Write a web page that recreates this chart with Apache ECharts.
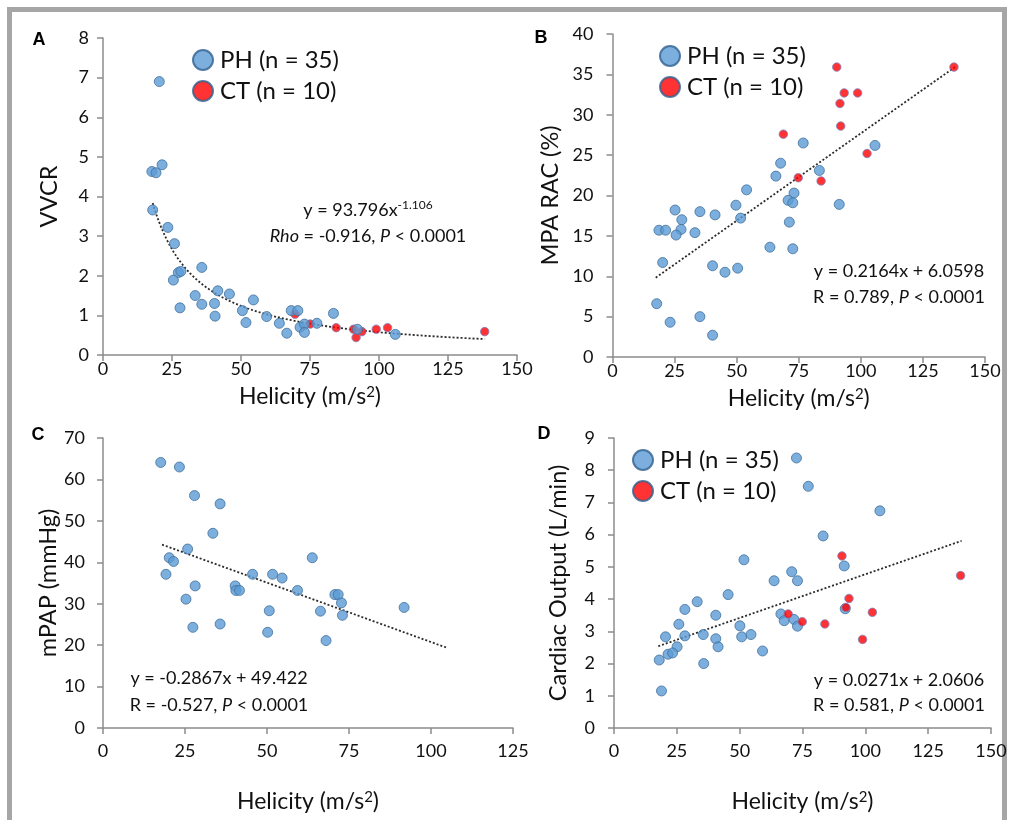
<!DOCTYPE html>
<html>
<head>
<meta charset="utf-8">
<title>Helicity correlations</title>
<script src="https://cdn.jsdelivr.net/npm/echarts@6/dist/echarts.min.js"></script>
<style>
  html, body { margin: 0; padding: 0; background: #ffffff; }
  #chart { width: 1014px; height: 820px; }
</style>
</head>
<body>
<div id="chart"></div>
<script>
// ---- Panel A: VVCR vs helicity ----
const phA = [[20.4,6.90],[17.7,4.63],[19.2,4.60],[21.4,4.80],[18.0,3.66],[23.5,3.22],[25.9,2.81],[27.3,2.08],[28.2,2.11],[25.5,1.89],[35.8,2.21],[27.9,1.19],[33.4,1.50],[35.8,1.28],[41.6,1.62],[45.8,1.54],[40.4,1.30],[40.6,0.98],[50.5,1.12],[54.5,1.39],[51.8,0.82],[59.3,0.97],[63.9,0.80],[66.6,0.55],[68.2,1.12],[70.6,1.12],[71.4,0.70],[73.0,0.78],[73.0,0.57],[77.5,0.80],[83.5,1.05],[92.2,0.65],[105.9,0.52]];
const ctA = [[69.6,1.03],[75.1,0.78],[84.5,0.69],[90.8,0.65],[91.7,0.44],[93.8,0.59],[99.0,0.65],[103.1,0.69],[138.3,0.59]];
const fitA = { a: 93.796, b: -1.106, from: 18.0, to: 138.3 };   // y = a * x^b

// ---- Panel B: MPA RAC vs helicity ----
const phB = [[67.7,24.0],[65.8,22.4],[54.0,20.7],[73.1,20.3],[70.7,19.4],[72.6,19.1],[49.7,18.8],[25.2,18.2],[35.2,18.0],[41.3,17.6],[51.6,17.2],[27.9,17.0],[18.7,15.7],[21.4,15.7],[27.6,15.8],[25.6,15.1],[33.2,15.4],[71.2,16.7],[63.4,13.6],[72.6,13.4],[20.2,11.7],[40.3,11.3],[45.3,10.5],[50.4,11.0],[17.8,6.6],[23.2,4.3],[35.2,5.0],[40.3,2.7],[76.8,26.5],[105.7,26.2],[83.3,23.1],[91.3,18.9]];
const ctB = [[68.8,27.6],[74.8,22.2],[90.3,35.9],[93.3,32.7],[98.7,32.7],[91.6,31.4],[91.9,28.6],[102.5,25.2],[84.0,21.8],[137.5,35.9]];
const fitB = { slope: 0.2164, intercept: 6.0598, from: 17.4, to: 138.0 };

// ---- Panel C: mPAP vs helicity ----
const phC = [[17.6,64.1],[23.3,63.0],[27.9,56.1],[35.7,54.1],[33.5,47.0],[25.8,43.2],[20.2,41.1],[21.5,40.2],[19.2,37.1],[45.6,37.1],[51.7,37.1],[54.6,36.2],[28.1,34.3],[40.3,34.3],[40.5,33.2],[41.6,33.2],[59.3,33.2],[25.3,31.1],[50.7,28.3],[27.4,24.3],[35.7,25.1],[50.2,23.1],[63.8,41.1],[70.7,32.2],[71.7,32.2],[72.7,30.2],[66.3,28.2],[73.0,27.2],[68.0,21.1],[91.8,29.1]];
const fitC = { slope: -0.2867, intercept: 49.422, from: 18.0, to: 105.0 };

// ---- Panel D: cardiac output vs helicity ----
const phD = [[51.7,5.22],[45.4,4.14],[33.1,3.92],[28.2,3.68],[40.5,3.50],[25.8,3.22],[20.5,2.83],[28.2,2.86],[35.5,2.90],[50.1,3.17],[50.8,2.83],[54.5,2.90],[40.5,2.77],[41.4,2.52],[25.1,2.52],[21.5,2.29],[23.3,2.33],[18.0,2.11],[35.7,2.00],[59.1,2.39],[18.9,1.15],[63.7,4.57],[70.7,4.85],[73.0,4.57],[66.4,3.54],[67.7,3.33],[71.6,3.37],[73.0,3.16],[72.6,8.38],[77.3,7.50],[105.8,6.74],[83.2,5.96],[91.6,5.03],[92.0,3.70]];
const ctD = [[69.3,3.54],[74.9,3.30],[83.9,3.23],[90.7,5.34],[92.3,3.74],[93.5,4.02],[102.8,3.59],[98.9,2.75],[137.9,4.73]];
const fitD = { slope: 0.0271, intercept: 2.0606, from: 17.6, to: 138.3 };

// ---- labels ----
const PH_NAME = 'PH (n = 35)';
const CT_NAME = 'CT (n = 10)';
const xTitle = '{n|Helicity (m/s}{s|2}{n|)}';
const yTitles = ['VVCR', 'MPA RAC (%)', 'mPAP (mmHg)', 'Cardiac Output (L/min)'];
const xMax = [150, 150, 125, 150];
const yMax = [8, 40, 70, 9];
const yStep = [1, 5, 10, 1];

const FONT = 'Lato, "Open Sans", sans-serif';
const INK = '#111111';
const AXIS = '#8c8c8c';

// per-panel spacing of tick labels and axis titles
const xLabelGap = [5, 5, 14, 14];
const xNameGap = [30, 30, 62, 62];
const yLabelGap = [14, 19, 18, 19];
const yNameGap = [42, 50, 42, 44];

// regression lines, sampled from the fitted equations
function powerLine(f) {
  const pts = [];
  const n = 80;
  for (let i = 0; i <= n; i++) {
    const x = f.from + (f.to - f.from) * i / n;
    pts.push([x, f.a * Math.pow(x, f.b)]);
  }
  return pts;
}
function straightLine(f) {
  return [[f.from, f.slope * f.from + f.intercept], [f.to, f.slope * f.to + f.intercept]];
}

const grids = [
  { left: 103, top: 38, width: 414, height: 317 },
  { left: 612.5, top: 34, width: 372.5, height: 323 },
  { left: 103, top: 438, width: 410, height: 290 },
  { left: 614, top: 438, width: 377, height: 290 }
];

function xAxisCfg(i) {
  return {
    type: 'value', gridIndex: i, min: 0, max: xMax[i], interval: 25,
    name: xTitle, nameLocation: 'middle', nameGap: xNameGap[i],
    nameTextStyle: {
      rich: {
        n: { fontSize: 23, color: INK, fontFamily: FONT },
        s: { fontSize: 15, color: INK, fontFamily: FONT, verticalAlign: 'top' }
      }
    },
    axisLine: { show: true, onZero: false, lineStyle: { color: AXIS, width: 1.5 } },
    axisTick: { show: true, inside: false, length: 6, lineStyle: { color: AXIS, width: 1.5 } },
    axisLabel: { fontSize: 18, color: INK, fontFamily: FONT, margin: xLabelGap[i] },
    splitLine: { show: false }
  };
}
function yAxisCfg(i) {
  return {
    type: 'value', gridIndex: i, min: 0, max: yMax[i], interval: yStep[i],
    name: yTitles[i], nameLocation: 'middle', nameGap: yNameGap[i], nameRotate: 90,
    nameTextStyle: { fontSize: 23.5, color: INK, fontFamily: FONT },
    axisLine: { show: true, onZero: false, lineStyle: { color: AXIS, width: 1.5 } },
    axisTick: { show: true, inside: false, length: 6, lineStyle: { color: AXIS, width: 1.5 } },
    axisLabel: { fontSize: 18, color: INK, fontFamily: FONT, margin: yLabelGap[i] },
    splitLine: { show: false }
  };
}

const phStyle = { color: '#5b9bd5', borderColor: '#41719c', borderWidth: 1 };
const ctStyle = { color: '#ff0000', borderColor: '#7b86c4', borderWidth: 1 };

function phSeries(i, data) {
  return { name: PH_NAME, type: 'scatter', xAxisIndex: i, yAxisIndex: i, data,
    symbol: 'circle', symbolSize: 10, itemStyle: phStyle, silent: true };
}
function ctSeries(i, data) {
  return { name: CT_NAME, type: 'scatter', xAxisIndex: i, yAxisIndex: i, data,
    symbol: 'circle', symbolSize: 8.5, itemStyle: ctStyle, silent: true };
}
function fitSeries(i, data) {
  return { name: 'fit' + i, type: 'line', xAxisIndex: i, yAxisIndex: i, data,
    showSymbol: false, symbol: 'none', silent: true, z: 1,
    lineStyle: { color: '#2b2b2b', width: 1.8, type: [2, 2] } };
}

function legendAt(left, top) {
  return {
    data: [PH_NAME, CT_NAME], orient: 'vertical', left, top,
    icon: 'circle', itemWidth: 20, itemHeight: 20, itemGap: 7,
    selectedMode: false,
    itemStyle: { borderColor: '#2f5f8f', borderWidth: 2 },
    textStyle: { fontSize: 24, lineHeight: 20, color: INK, fontFamily: FONT, padding: [0, 0, 0, 2] }
  };
}

function note(x, y, text, align, rich) {
  return { type: 'text', x, y, silent: true,
    style: { text, fill: INK, font: '18px ' + FONT, align: align || 'center', verticalAlign: 'middle',
      rich: rich || {} } };
}
function letter(x, y, t) {
  return { type: 'text', x, y, silent: true,
    style: { text: t, fill: '#000', font: 'bold 18px "Liberation Sans", Arial, sans-serif', align: 'center', verticalAlign: 'middle' } };
}

const italic = { i: { fontStyle: 'italic', fontSize: 18, fontFamily: FONT, fill: INK } };
const supRich = {
  n: { fontSize: 18, fontFamily: FONT, fill: INK, lineHeight: 22 },
  s: { fontSize: 12, fontFamily: FONT, fill: INK, verticalAlign: 'top', lineHeight: 22 }
};

const chart = echarts.init(document.getElementById('chart'), null, { renderer: 'canvas' });
chart.setOption({
  animation: false,
  backgroundColor: '#ffffff',
  grid: grids,
  xAxis: [0, 1, 2, 3].map(xAxisCfg),
  yAxis: [0, 1, 2, 3].map(yAxisCfg),
  legend: [legendAt(187, 43), legendAt(654, 39), legendAt(627, 443)],
  series: [
    fitSeries(0, powerLine(fitA)), ctSeries(0, ctA), phSeries(0, phA),
    fitSeries(1, straightLine(fitB)), phSeries(1, phB), ctSeries(1, ctB),
    fitSeries(2, straightLine(fitC)), phSeries(2, phC),
    fitSeries(3, straightLine(fitD)), phSeries(3, phD), ctSeries(3, ctD)
  ],
  graphic: [
    { type: 'rect', silent: true, z: -10,
      shape: { x: 9.5, y: 9.5, width: 995, height: 830 },
      style: { fill: 'none', stroke: '#a6a6a6', lineWidth: 5 } },
    letter(39, 40, 'A'), letter(541, 38, 'B'), letter(38, 435, 'C'), letter(544, 434, 'D'),
    note(368, 210, '{n|y = 93.796x}{s|-1.106}', 'center', supRich),
    note(368, 236, '{i|Rho} = -0.916, {i|P} < 0.0001', 'center', italic),
    note(899, 271, 'y = 0.2164x + 6.0598'),
    note(899, 297, 'R = 0.789, {i|P} < 0.0001', 'center', italic),
    note(219, 678, 'y = -0.2867x + 49.422'),
    note(219, 705, 'R = -0.527, {i|P} < 0.0001', 'center', italic),
    note(899, 680, 'y = 0.0271x + 2.0606'),
    note(899, 705, 'R = 0.581, {i|P} < 0.0001', 'center', italic)
  ]
});
</script>
</body>
</html>
